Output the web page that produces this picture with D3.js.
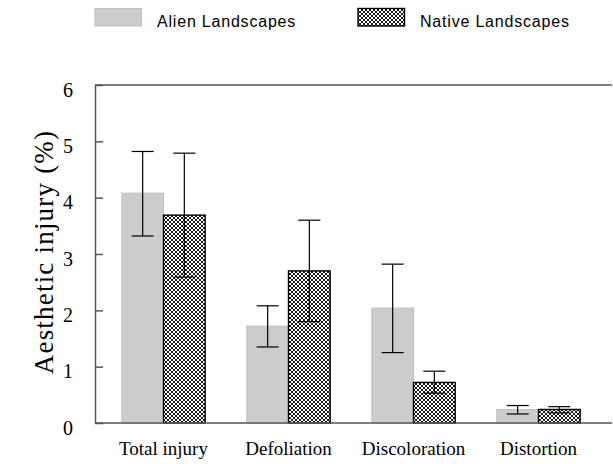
<!DOCTYPE html>
<html>
<head>
<meta charset="utf-8">
<script src="https://cdn.jsdelivr.net/npm/d3@7/dist/d3.min.js"></script>
<style>
  html, body { margin: 0; padding: 0; background: #fff; }
  svg { display: block; }
</style>
</head>
<body>
<script>
// Injury categories and mean aesthetic injury (%) with error bar limits
const categories = ["Total injury", "Defoliation", "Discoloration", "Distortion"];
const seriesNames = ["Alien Landscapes", "Native Landscapes"];
const alienMean = [4.08, 1.72, 2.04, 0.24];
const alienLow  = [3.32, 1.35, 1.25, 0.16];
const alienHigh = [4.82, 2.08, 2.82, 0.31];
const nativeMean = [3.69, 2.70, 0.72, 0.24];
const nativeLow  = [2.59, 1.80, 0.53, 0.18];
const nativeHigh = [4.79, 3.60, 0.92, 0.29];
const yTicks = [0, 1, 2, 3, 4, 5, 6];

const W = 613, H = 464;
const plot = { left: 95, right: 612, top: 85, bottom: 423 };

const svg = d3.select("body").append("svg").attr("width", W).attr("height", H);

// Crosshatch fill for the native series
const defs = svg.append("defs");
const pat = defs.append("pattern")
  .attr("id", "xhatch").attr("patternUnits", "userSpaceOnUse")
  .attr("width", 4).attr("height", 4);
pat.append("rect").attr("width", 4).attr("height", 4).attr("fill", "#fff");
pat.append("path").attr("d", "M0,0L4,4M4,0L0,4M-1,3L1,5M3,-1L5,1M3,5L5,3M-1,1L1,-1")
  .attr("stroke", "#000").attr("stroke-width", 0.9).attr("fill", "none");

const y = d3.scaleLinear().domain([0, 6]).range([plot.bottom, plot.top]);
const x = d3.scaleBand().domain(categories).range([101, 601])
  .paddingInner(1 / 3).paddingOuter(1 / 6);
const xs = d3.scaleBand().domain(seriesNames).range([0, x.bandwidth()]);

const data = categories.map((c, i) => [
  { cat: c, s: seriesNames[0], v: alienMean[i], lo: alienLow[i], hi: alienHigh[i] },
  { cat: c, s: seriesNames[1], v: nativeMean[i], lo: nativeLow[i], hi: nativeHigh[i] }
]).flat();

const fills = { "Alien Landscapes": "#cccccc", "Native Landscapes": "url(#xhatch)" };
const strokes = { "Alien Landscapes": "#bfbfbf", "Native Landscapes": "#000" };

// Bars
svg.append("g").selectAll("rect").data(data).join("rect")
  .attr("x", d => x(d.cat) + xs(d.s))
  .attr("y", d => y(d.v))
  .attr("width", xs.bandwidth())
  .attr("height", d => y(0) - y(d.v))
  .attr("fill", d => fills[d.s])
  .attr("stroke", d => strokes[d.s])
  .attr("stroke-width", d => d.s === seriesNames[1] ? 1.4 : 1);

// Error bars
const capHalf = 11;
const eb = svg.append("g").attr("stroke", "#000").attr("stroke-width", 1.2).attr("fill", "none");
data.forEach(d => {
  const cx = x(d.cat) + xs(d.s) + xs.bandwidth() / 2;
  eb.append("line").attr("x1", cx).attr("x2", cx).attr("y1", y(d.lo)).attr("y2", y(d.hi));
  eb.append("line").attr("x1", cx - capHalf).attr("x2", cx + capHalf).attr("y1", y(d.hi)).attr("y2", y(d.hi));
  eb.append("line").attr("x1", cx - capHalf).attr("x2", cx + capHalf).attr("y1", y(d.lo)).attr("y2", y(d.lo));
});

// Y axis with inward ticks
const yAxis = svg.append("g").attr("transform", `translate(${plot.left},0)`)
  .call(d3.axisLeft(y).tickValues(yTicks).tickSize(-8).tickSizeOuter(0).tickPadding(22).tickFormat(d3.format("d")));
yAxis.select(".domain").attr("stroke", "#555").attr("stroke-width", 1.5);
yAxis.selectAll(".tick line").attr("stroke", "#555").attr("stroke-width", 1.5);
yAxis.selectAll(".tick text")
  .attr("font-family", "'Liberation Serif', 'Times New Roman', serif")
  .attr("font-size", 20).attr("fill", "#000").attr("dy", "0.55em");

// Frame lines along bottom and top
svg.append("line").attr("x1", plot.left).attr("x2", plot.right)
  .attr("y1", plot.bottom).attr("y2", plot.bottom).attr("stroke", "#555").attr("stroke-width", 1.5);
svg.append("line").attr("x1", plot.left).attr("x2", plot.right)
  .attr("y1", plot.top).attr("y2", plot.top).attr("stroke", "#555").attr("stroke-width", 1.5);

// Category labels
svg.append("g").selectAll("text").data(categories).join("text")
  .attr("x", d => x(d) + x.bandwidth() / 2)
  .attr("y", 455)
  .attr("text-anchor", "middle")
  .attr("font-family", "'Liberation Serif', 'Times New Roman', serif")
  .attr("font-size", 19).attr("fill", "#000")
  .text(d => d);

// Y axis title
svg.append("text")
  .attr("transform", `translate(53,252) rotate(-90)`)
  .attr("text-anchor", "middle")
  .attr("font-family", "'Liberation Serif', 'Times New Roman', serif")
  .attr("font-size", 27).attr("letter-spacing", 1.2).attr("fill", "#000")
  .text("Aesthetic injury (%)");

// Legend
const legend = [
  { name: seriesNames[0], sx: 95, tx: 157 },
  { name: seriesNames[1], sx: 358, tx: 420 }
];
const lg = svg.append("g");
legend.forEach(l => {
  lg.append("rect").attr("x", l.sx).attr("y", 8.5).attr("width", 46.5).attr("height", 17.5)
    .attr("fill", fills[l.name]).attr("stroke", strokes[l.name])
    .attr("stroke-width", l.name === seriesNames[1] ? 1.4 : 1);
  lg.append("text").attr("x", l.tx).attr("y", 27)
    .attr("font-family", "'Liberation Sans', Arial, sans-serif")
    .attr("font-size", 16).attr("letter-spacing", 0.8).attr("fill", "#000")
    .text(l.name);
});
</script>
</body>
</html>
